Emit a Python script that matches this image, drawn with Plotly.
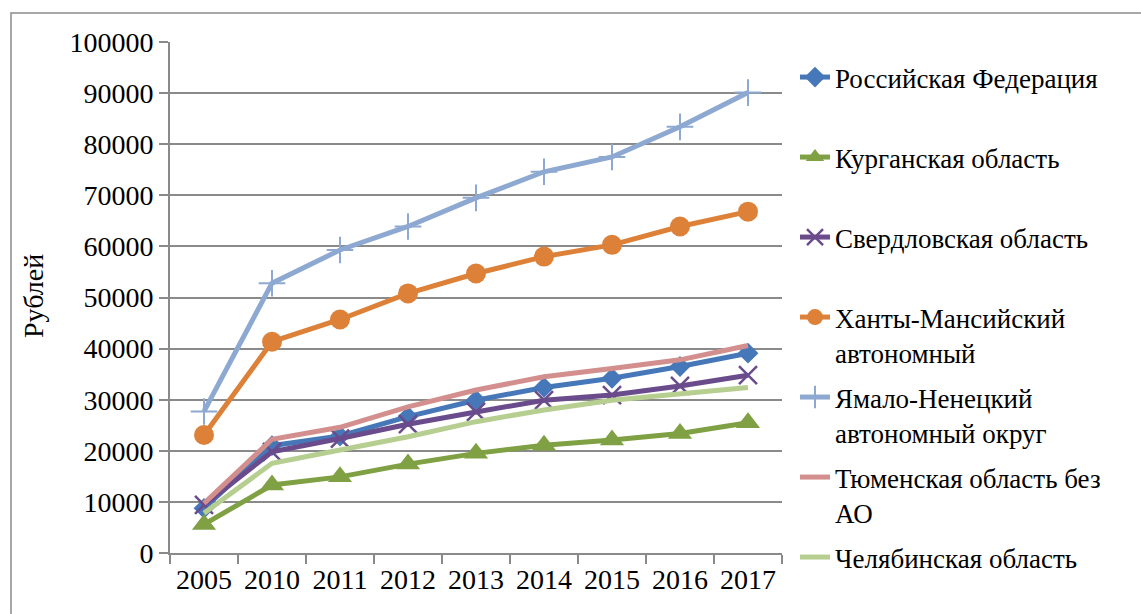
import plotly.graph_objects as go

years = ["2005", "2010", "2011", "2012", "2013", "2014", "2015", "2016", "2017"]

russia = [8750, 21000, 22900, 26700, 29900, 32400, 34200, 36500, 39100]
kurgan = [5600, 13300, 14900, 17400, 19500, 21100, 22100, 23400, 25500]
sverdl = [9400, 19800, 22400, 25200, 27600, 29900, 30900, 32700, 34800]
khmao = [23100, 41350, 45700, 50800, 54700, 58000, 60300, 63900, 66800]
yamal = [27700, 52800, 59300, 63900, 69500, 74600, 77500, 83400, 90100]
tyumen = [9700, 22250, 24600, 28600, 31900, 34500, 36100, 37800, 40600]
chelyab = [7800, 17550, 20150, 22750, 25700, 28000, 29900, 31250, 32400]

names = [
    "Российская Федерация",
    "Курганская область",
    "Свердловская область",
    "Ханты-Мансийский<br>автономный",
    "Ямало-Ненецкий<br>автономный округ",
    "Тюменская область без<br>АО",
    "Челябинская область",
]
y_title = "Рублей"

FONT = "Liberation Serif"
W, H = 1141, 614
L, R, T, B = 170, 782, 42, 553

series = [
    (russia, "#4677B8", dict(symbol="diamond", size=16)),
    (kurgan, "#7FA043", dict(symbol="triangle-up", size=21)),
    (sverdl, "#6A4B8C", dict(symbol="x-thin-open", size=18, line=dict(width=2.5, color="#6A4B8C"))),
    (khmao, "#DD8139", dict(symbol="circle", size=20)),
    (yamal, "#8EA9D1", dict(symbol="cross-thin-open", size=19, line=dict(width=2, color="#8EA9D1"))),
    (tyumen, "#D38F8D", None),
    (chelyab, "#B6CF91", None),
]

legend_tops = [78, 158, 238, 318, 398, 478, 558]

fig = go.Figure()
for i, ((vals, color, marker), name) in enumerate(zip(series, names)):
    lg = "legend" if i == 0 else f"legend{i+1}"
    kw = dict(
        x=years, y=vals, name=name, legend=lg,
        line=dict(color=color, width=5),
    )
    if marker is not None:
        m = dict(color=color)
        m.update(marker)
        kw["mode"] = "lines+markers"
        kw["marker"] = m
    else:
        kw["mode"] = "lines"
    fig.add_trace(go.Scatter(**kw))

layout_legends = {}
for i, ty in enumerate(legend_tops):
    key = "legend" if i == 0 else f"legend{i+1}"
    layout_legends[key] = dict(
        xref="container", yref="container",
        x=795 / W, y=1 - (ty - 25) / H,
        xanchor="left", yanchor="top",
        valign="top",
        bgcolor="rgba(0,0,0,0)",
        font=dict(family=FONT, size=27, color="black"),
    )

pw = R - L
ph = B - T
fig.add_shape(
    type="rect", xref="paper", yref="paper",
    x0=(11 - L) / pw, x1=(W + 20 - L) / pw,
    y0=(B - (H + 20)) / ph, y1=(B - 13) / ph,
    line=dict(color="#8C8C8C", width=1.5), fillcolor="rgba(0,0,0,0)",
    layer="below",
)

fig.add_annotation(
    xref="paper", yref="paper",
    x=(33 - L) / pw, y=(B - 296) / ph,
    text=y_title, textangle=-90, showarrow=False,
    xanchor="center", yanchor="middle",
    font=dict(family=FONT, size=28, color="black"),
)

fig.update_layout(
    width=W, height=H,
    margin=dict(l=L, r=W - R, t=T, b=H - B, pad=0),
    paper_bgcolor="white", plot_bgcolor="white",
    showlegend=True,
    **layout_legends,
)
fig.update_xaxes(
    type="category", range=[-0.5, 8.5],
    showgrid=False, showline=True, linecolor="#8A8A8A", linewidth=2,
    ticks="outside", tickson="boundaries", ticklen=9, tickwidth=2, tickcolor="#8A8A8A",
    tickfont=dict(family=FONT, size=28, color="black"),
    zeroline=False,
)
fig.update_yaxes(
    range=[0, 100000], dtick=10000,
    showgrid=True, gridcolor="#8A8A8A", gridwidth=2,
    showline=True, linecolor="#8A8A8A", linewidth=2,
    ticks="outside", ticklen=9, tickwidth=2, tickcolor="#8A8A8A",
    tickfont=dict(family=FONT, size=28, color="black"),
    tickformat="d",
    zeroline=False,
)

fig.write_html("out.html")
